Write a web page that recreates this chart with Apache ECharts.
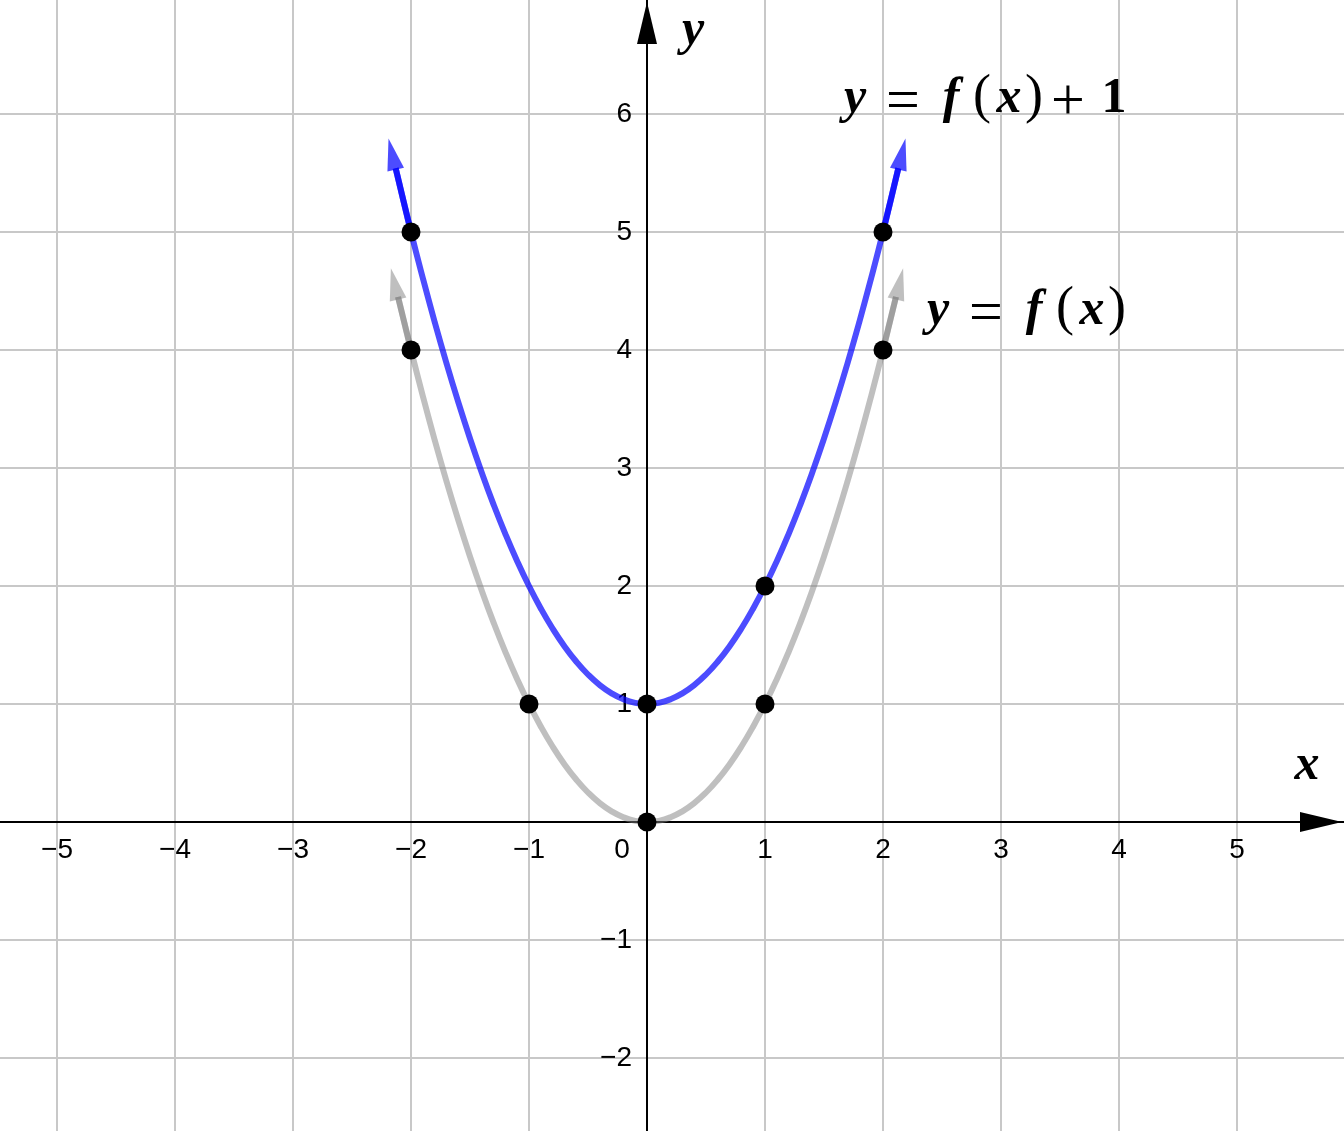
<!DOCTYPE html>
<html>
<head>
<meta charset="utf-8">
<script src="https://cdn.jsdelivr.net/npm/echarts@6/dist/echarts.min.js"></script>
<style>
html, body { margin: 0; padding: 0; background: #fff; }
#chart { width: 1344px; height: 1131px; }
</style>
</head>
<body>
<div id="chart"></div>
<script>
// axis range (ticks every 1)
const xMin = -6, xMax = 6;
const yMin = -3, yMax = 7;

// y = f(x)
const fX = [-2.11, -2, -1.9, -1.8, -1.7, -1.6, -1.5, -1.4, -1.3, -1.2, -1.1, -1, -0.9, -0.8, -0.7, -0.6, -0.5, -0.4, -0.3, -0.2, -0.1, 0,
  0.1, 0.2, 0.3, 0.4, 0.5, 0.6, 0.7, 0.8, 0.9, 1, 1.1, 1.2, 1.3, 1.4, 1.5, 1.6, 1.7, 1.8, 1.9, 2, 2.11];
const fY = [4.45, 4, 3.61, 3.24, 2.89, 2.56, 2.25, 1.96, 1.69, 1.44, 1.21, 1, 0.81, 0.64, 0.49, 0.36, 0.25, 0.16, 0.09, 0.04, 0.01, 0,
  0.01, 0.04, 0.09, 0.16, 0.25, 0.36, 0.49, 0.64, 0.81, 1, 1.21, 1.44, 1.69, 1.96, 2.25, 2.56, 2.89, 3.24, 3.61, 4, 4.45];
// y = f(x) + 1
const gX = [-2.13, -2, -1.9, -1.8, -1.7, -1.6, -1.5, -1.4, -1.3, -1.2, -1.1, -1, -0.9, -0.8, -0.7, -0.6, -0.5, -0.4, -0.3, -0.2, -0.1, 0,
  0.1, 0.2, 0.3, 0.4, 0.5, 0.6, 0.7, 0.8, 0.9, 1, 1.1, 1.2, 1.3, 1.4, 1.5, 1.6, 1.7, 1.8, 1.9, 2, 2.13];
const gY = [5.54, 5, 4.61, 4.24, 3.89, 3.56, 3.25, 2.96, 2.69, 2.44, 2.21, 2, 1.81, 1.64, 1.49, 1.36, 1.25, 1.16, 1.09, 1.04, 1.01, 1,
  1.01, 1.04, 1.09, 1.16, 1.25, 1.36, 1.49, 1.64, 1.81, 2, 2.21, 2.44, 2.69, 2.96, 3.25, 3.56, 3.89, 4.24, 4.61, 5, 5.54];

// marked points
const fDotX = [-2, -1, 0, 1, 2];
const fDotY = [4, 1, 0, 1, 4];
const gDotX = [-2, 0, 1, 2];
const gDotY = [5, 1, 2, 5];

// arrow heads at the curve ends
const fArrowX = [-2.14, 2.14];
const fArrowY = [4.56, 4.56];
const gArrowX = [-2.16, 2.16];
const gArrowY = [5.66, 5.66];

const BLUE = "rgba(0,0,255,0.7)";
const GREY = "rgba(128,128,128,0.5)";
const W = 118; // px per unit
const X0 = 647, Y0 = 822; // where the origin sits

const zip = (a, b) => a.map((v, i) => [v, b[i]]);
const minus = v => String(v).replace("-", "\u2212");

const chart = echarts.init(document.getElementById("chart"));

function curve(xs, ys, color) {
  return {
    type: "line", data: zip(xs, ys), smooth: true, symbol: "none",
    lineStyle: { color, width: 6 }, silent: true, z: 3
  };
}
// short piece over the curve end (darker where it overlaps)
function shaft(pts, color) {
  return {
    type: "line", data: pts, symbol: "none",
    lineStyle: { color, width: 6 }, silent: true, z: 3
  };
}
function arrows(xs, ys, color) {
  return {
    type: "scatter", symbol: "triangle", symbolSize: [17, 32],
    data: zip(xs, ys).map((p, i) => ({ value: p, symbolRotate: i === 0 ? 13 : -13 })),
    itemStyle: { color, opacity: 1 }, silent: true, z: 3
  };
}
function dots(xs, ys) {
  return {
    type: "scatter", symbol: "circle", symbolSize: 19, data: zip(xs, ys),
    itemStyle: { color: "#000", opacity: 1 }, silent: true, z: 5
  };
}

// math-style text, one glyph at a time: [char, centre x, kind]
const glyphFont = {
  i: { font: "italic bold 50px 'Liberation Serif'", dy: 0 },
  b: { font: "bold 50px 'Liberation Serif'", dy: 0 },
  p: { font: "54px 'Liberation Serif'", dy: -1 },
  o: { font: "60px 'Liberation Serif'", dy: 4 }
};
function mathText(glyphs, baseY) {
  return glyphs.map(([ch, cx, k]) => ({
    type: "text", x: cx, y: baseY - 17 + glyphFont[k].dy, z: 10, silent: true,
    style: { text: ch, font: glyphFont[k].font, fill: "#000", align: "center", verticalAlign: "middle" }
  }));
}
const label1 = [["y", 855, "i"], ["=", 903, "o"], ["f", 951, "i"], ["(", 982, "p"], ["x", 1009, "i"],
  [")", 1034, "p"], ["+", 1068, "o"], ["1", 1114, "b"]];
const label2 = [["y", 938, "i"], ["=", 986, "o"], ["f", 1034, "i"], ["(", 1065, "p"], ["x", 1092, "i"], [")", 1117, "p"]];

const labelFont = { fontFamily: "Liberation Sans", fontSize: 28, color: "#000" };

const option = {
  animation: false,
  backgroundColor: "#fff",
  grid: {
    left: X0 + xMin * W, top: Y0 - yMax * W,
    width: (xMax - xMin) * W, height: (yMax - yMin) * W,
    containLabel: false, outerBoundsMode: "none"
  },
  xAxis: {
    type: "value", min: xMin, max: xMax, interval: 1,
    position: "bottom", offset: -(-yMin * W),
    axisLine: { onZero: false, symbol: ["none", "triangle"], symbolSize: [20, 42], symbolOffset: [0, -34],
      lineStyle: { color: "#000", width: 2 } },
    axisTick: { show: false },
    splitLine: { lineStyle: { color: "#c8c8c8", width: 2 } },
    axisLabel: {
      ...labelFont, margin: 14, showMinLabel: false, showMaxLabel: false,
      formatter: v => v === 0 ? "{o|0}" : minus(v),
      rich: { o: { ...labelFont, padding: [0, 50, 0, 0] } }
    }
  },
  yAxis: {
    type: "value", min: yMin, max: yMax, interval: 1,
    position: "left", offset: -(-xMin * W),
    axisLine: { onZero: false, symbol: ["none", "triangle"], symbolSize: [20, 42], symbolOffset: [0, -27],
      lineStyle: { color: "#000", width: 2 } },
    axisTick: { show: false },
    splitLine: { lineStyle: { color: "#c8c8c8", width: 2 } },
    axisLabel: {
      ...labelFont, margin: 15, showMinLabel: false, showMaxLabel: false,
      formatter: v => v === 0 ? "" : minus(v)
    }
  },
  graphic: [
    ...mathText(label1, 116),
    ...mathText(label2, 328),
    ...mathText([["x", 1307, "i"]], 783),
    ...mathText([["y", 693, "i"]], 48)
  ],
  series: [
    curve(fX, fY, GREY),
    curve(gX, gY, BLUE),
    shaft(zip(fX, fY).slice(0, 2), GREY),
    shaft(zip(fX, fY).slice(-2), GREY),
    shaft(zip(gX, gY).slice(0, 2), BLUE),
    shaft(zip(gX, gY).slice(-2), BLUE),
    arrows(fArrowX, fArrowY, GREY),
    arrows(gArrowX, gArrowY, BLUE),
    dots(fDotX, fDotY),
    dots(gDotX, gDotY)
  ]
};
chart.setOption(option);
</script>
</body>
</html>
